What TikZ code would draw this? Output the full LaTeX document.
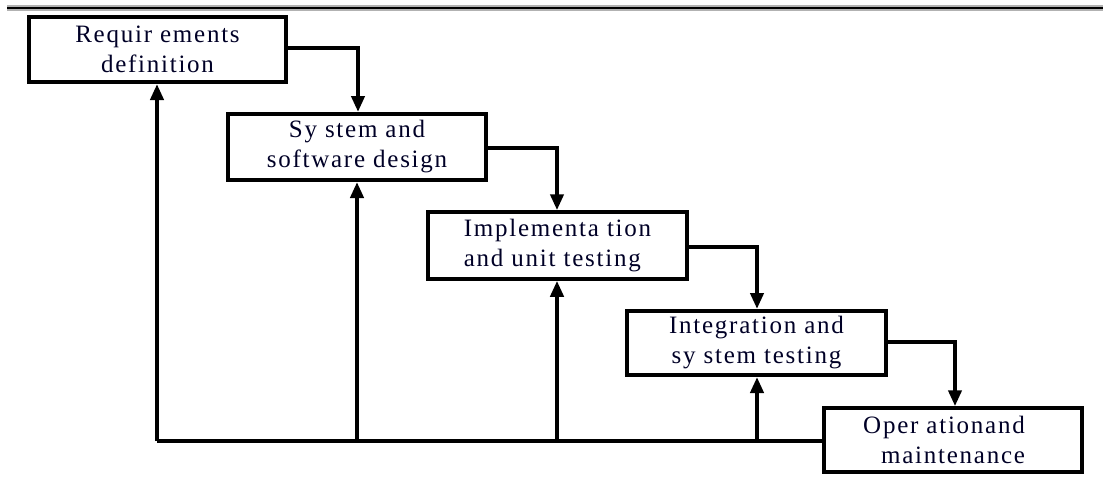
\documentclass[tikz,border=0pt]{standalone}
\usepackage{fontspec}
\setmainfont{Liberation Serif}[LetterSpace=7]
\usetikzlibrary{arrows.meta}
\begin{document}
\begin{tikzpicture}[x=1pt,y=-1pt,
  box/.style={draw=black,line width=4pt,rectangle,inner sep=0pt,align=center,
    font=\fontsize{25}{30}\selectfont,text=black!85!blue},
  flow/.style={line width=4pt,-{Triangle[length=16pt,width=13pt]}},
  back/.style={line width=4pt,-{Triangle[length=16pt,width=13pt]}}]
\useasboundingbox (0,0) rectangle (1103,479);
% top rule
\draw[line width=6pt,black!30] (7,8) -- (1103,8);
\draw[line width=2.5pt,black] (7,8) -- (1103,8);
% boxes
\node[box,minimum width=257pt,minimum height=65pt] (b1) at (157.5,49.5) {Requir ements\\definition};
\node[box,minimum width=258pt,minimum height=66pt] (b2) at (357,147) {Sy stem and\\software design};
\node[box,line width=3.5pt,minimum width=259pt,minimum height=67pt,align=left] (b3) at (557.5,245.5) {Implementa tion\\and unit testing};
\node[box,minimum width=259pt,minimum height=64pt] (b4) at (756.5,343) {Integration and\\sy stem testing};
\node[box,line width=3.5pt,minimum width=258pt,minimum height=64pt] (b5) at (953,440) {\hspace*{-18pt}Oper ationand\\maintenance};
% forward flow
\draw[flow] (b1.east |- 0,48) -| (b2.north -| 358,0);
\draw[flow] (b2.east |- 0,148) -| (b3.north -| 557,0);
\draw[flow] (b3.east |- 0,247) -| (b4.north -| 757,0);
\draw[flow] (b4.east |- 0,342) -| (b5.north -| 955,0);
% feedback
\coordinate (c0) at (157,441);
\draw[line width=4pt] (b5.west |- 0,441) -- (c0);
\draw[back] (c0) -- (b1.south -| c0);
\draw[back] (357,441) -- (b2.south -| 357,0);
\draw[back] (557,441) -- (b3.south -| 557,0);
\draw[back] (757,441) -- (b4.south -| 757,0);
\end{tikzpicture}
\end{document}
